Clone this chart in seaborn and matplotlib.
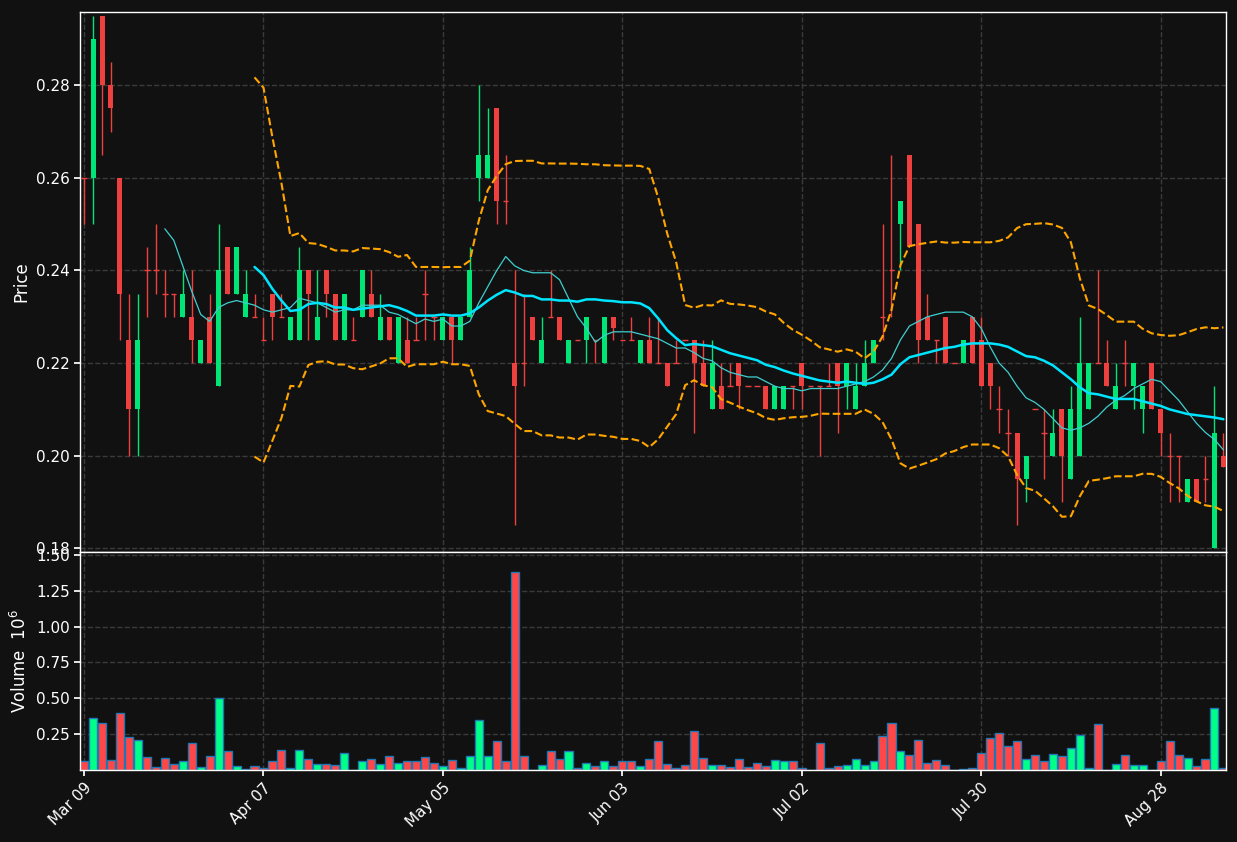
import numpy as np
import pandas as pd
import matplotlib
matplotlib.use("Agg")
import matplotlib.pyplot as plt
import seaborn as sns

opens = [.26,.26,.295,.28,.26,.225,.21,.24,.24,.235,.235,.23,.23,.22,.23,.215,.245,.235,.23,.23,
         .225,.235,.23,.225,.225,.24,.225,.24,.235,.225,.225,.23,.235,.225,.23,.22,.225,.225,.235,.23,
         .225,.23,.225,.23,.26,.26,.275,.255,.22,.22,.23,.22,.23,.23,.22,.225,.225,.225,.22,.23,
         .225,.225,.22,.225,.22,.22,.22,.225,.225,.22,.21,.215,.215,.22,.215,.215,.215,.21,.21,.215,
         .22,.215,.215,.215,.22,.215,.21,.215,.22,.23,.24,.25,.265,.25,.23,.225,.23,.22,.22,.23,
         .225,.22,.21,.205,.205,.195,.21,.205,.20,.21,.195,.20,.21,.22,.22,.21,.22,.215,.21,.22,
         .21,.20,.20,.19,.195,.195,.18,.20]
highs = [.26,.295,.295,.285,.26,.235,.235,.245,.25,.24,.235,.24,.24,.225,.235,.25,.245,.245,.24,.235,
         .23,.235,.235,.23,.245,.24,.24,.24,.235,.235,.23,.24,.24,.235,.23,.23,.23,.23,.24,.23,
         .23,.23,.23,.245,.28,.275,.275,.265,.24,.235,.23,.23,.24,.23,.225,.225,.23,.225,.23,.23,
         .225,.23,.225,.23,.23,.22,.225,.225,.225,.225,.225,.22,.22,.22,.215,.215,.215,.215,.215,.215,
         .22,.215,.215,.22,.22,.22,.22,.225,.225,.25,.265,.255,.265,.25,.235,.225,.23,.22,.225,.23,
         .23,.22,.215,.21,.205,.20,.21,.21,.21,.21,.215,.23,.22,.24,.225,.22,.225,.22,.215,.22,
         .21,.205,.20,.195,.195,.20,.215,.205]
lows = [.25,.25,.265,.27,.225,.20,.20,.23,.235,.23,.23,.23,.22,.22,.22,.215,.235,.235,.23,.23,
        .225,.225,.23,.225,.225,.225,.225,.23,.225,.225,.225,.23,.23,.225,.225,.22,.22,.225,.225,.225,
        .225,.22,.225,.23,.255,.26,.25,.25,.185,.215,.225,.22,.23,.225,.22,.225,.22,.22,.22,.225,
        .225,.225,.22,.22,.22,.215,.22,.225,.205,.215,.21,.21,.215,.21,.215,.215,.21,.21,.21,.21,
        .21,.215,.20,.215,.205,.21,.21,.215,.22,.225,.23,.24,.245,.22,.225,.22,.22,.22,.22,.22,
        .215,.21,.205,.20,.185,.19,.21,.195,.20,.19,.195,.20,.21,.22,.215,.21,.215,.21,.205,.21,
        .20,.19,.19,.19,.19,.19,.18,.1975]
closes = [.26,.29,.28,.275,.235,.21,.225,.24,.24,.235,.235,.235,.225,.225,.22,.24,.235,.245,.235,.23,
          .225,.23,.23,.23,.24,.235,.23,.235,.225,.235,.225,.24,.23,.23,.225,.23,.22,.225,.235,.23,
          .23,.225,.23,.24,.265,.265,.255,.255,.215,.22,.225,.225,.23,.225,.225,.225,.23,.225,.23,.2275,
          .225,.225,.225,.22,.22,.215,.22,.225,.22,.215,.22,.21,.215,.215,.215,.215,.21,.215,.215,.215,
          .215,.215,.215,.215,.215,.22,.215,.22,.225,.23,.24,.255,.245,.225,.225,.225,.22,.22,.225,.22,
          .215,.215,.21,.205,.195,.20,.21,.205,.205,.20,.21,.22,.22,.22,.215,.215,.22,.22,.215,.21,
          .205,.20,.20,.195,.19,.195,.205,.1975]
volumes = [0.065,0.36,0.33,0.07,0.40,0.23,0.21,0.09,0.02,0.085,0.045,0.06,0.185,0.02,0.10,0.50,0.135,0.03,0.01,0.03,
           0.015,0.06,0.14,0.015,0.14,0.08,0.045,0.045,0.035,0.12,0.002,0.06,0.08,0.045,0.10,0.05,0.06,0.06,0.09,0.05,
           0.025,0.07,0.015,0.10,0.35,0.095,0.205,0.06,1.38,0.095,0.002,0.035,0.13,0.08,0.13,0.015,0.05,0.03,0.06,0.03,
           0.06,0.06,0.025,0.08,0.205,0.045,0.015,0.035,0.275,0.085,0.035,0.035,0.02,0.08,0.02,0.05,0.03,0.07,0.06,0.065,
           0.015,0.002,0.19,0.015,0.025,0.035,0.08,0.035,0.06,0.24,0.325,0.13,0.105,0.21,0.05,0.07,0.035,0.002,0.008,0.015,
           0.12,0.22,0.255,0.165,0.20,0.08,0.105,0.06,0.115,0.10,0.15,0.245,0.015,0.32,0.002,0.045,0.105,0.035,0.035,0.002,
           0.065,0.20,0.105,0.085,0.03,0.08,0.435,0.015]
tick_positions = [0, 20, 40, 60, 80, 100, 120]
tick_labels = ["Mar 09", "Apr 07", "May 05", "Jun 03", "Jul 02", "Jul 30", "Aug 28"]

BG = "#111111"
sns.set_theme(style="dark", rc={"axes.facecolor": BG, "figure.facecolor": BG,
                                "axes.edgecolor": "white", "text.color": "white",
                                "axes.labelcolor": "white", "xtick.color": "white",
                                "ytick.color": "white", "grid.color": "#3a3a3a",
                                "grid.linestyle": "--"})
plt.rcParams["font.family"] = ["DejaVu Sans"]

df = pd.DataFrame({"o": opens, "h": highs, "l": lows, "c": closes, "v": volumes})
df["x"] = np.arange(len(df))
df["ma10"] = df["c"].rolling(10).mean()
df["ma20"] = df["c"].rolling(20).mean()
sd = df["c"].rolling(20).std()
df["up"] = df["ma20"] + 2 * sd
df["lo"] = df["ma20"] - 2 * sd

fig = plt.figure(figsize=(12.37, 8.42), dpi=100)
ax = fig.add_axes([0.0647, 0.3444, 0.9265, 0.6413])
axv = fig.add_axes([0.0647, 0.0855, 0.9265, 0.2589], sharex=ax)

GREEN, RED = "#00e676", "#ef4040"
up = df["c"] > df["o"]
cols = np.where(up, GREEN, RED)
ax.vlines(df["x"], df["l"], df["h"], colors=cols, linewidth=1, zorder=3)
body_lo = np.minimum(df["o"], df["c"])
body_h = np.abs(df["c"] - df["o"])
ax.bar(df["x"], body_h, bottom=body_lo, width=0.56, color=cols, edgecolor="none",
       linewidth=0, zorder=4)
flat = body_h == 0
ax.hlines(df["o"][flat], df["x"][flat] - 0.3, df["x"][flat] + 0.3, colors=RED, linewidth=1, zorder=4)

sns.lineplot(data=df, x="x", y="ma10", ax=ax, color="#3fcfcf", linewidth=0.9, zorder=5)
sns.lineplot(data=df, x="x", y="ma20", ax=ax, color="#00e5ff", linewidth=1.8, zorder=5)
sns.lineplot(data=df, x="x", y="up", ax=ax, color="#ffa500", linewidth=1.5, linestyle="--", zorder=5)
sns.lineplot(data=df, x="x", y="lo", ax=ax, color="#ffa500", linewidth=1.5, linestyle="--", zorder=5)

vcols = np.where(up, "#00ff88", "#ff4747")
axv.bar(df["x"], df["v"], width=0.9, color=vcols, edgecolor="#1f77b4", linewidth=1)

ax.set_xlim(-0.45, len(df) - 0.7)
ax.set_ylim(0.1792, 0.2958)
ax.set_yticks([0.18, 0.20, 0.22, 0.24, 0.26, 0.28])
ax.set_ylabel("Price")
ax.set_xlabel("")
ax.grid(True, axis="both")
ax.tick_params(axis="x", labelbottom=False, length=0)
ax.tick_params(axis="y", left=True, length=4, colors="white")

axv.set_ylim(0, 1.52)
axv.set_yticks([0.25, 0.5, 0.75, 1.0, 1.25, 1.5])
axv.set_ylabel("Volume  $10^6$")
axv.grid(True, axis="both")
axv.set_xticks(tick_positions)
axv.set_xticklabels(tick_labels, rotation=45, ha="right", rotation_mode="anchor")
axv.tick_params(axis="both", bottom=True, left=True, length=4, colors="white")
for a in (ax, axv):
    for s in a.spines.values():
        s.set_color("white")
        s.set_linewidth(1)

fig.savefig("out.png", dpi=100, facecolor=BG)
